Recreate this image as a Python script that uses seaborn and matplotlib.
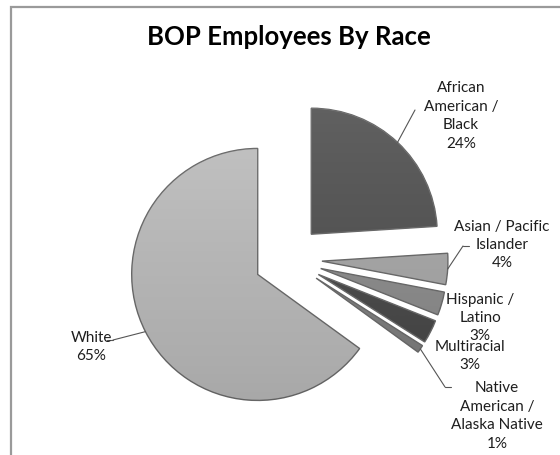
import numpy as np
import matplotlib
matplotlib.use("Agg")
import matplotlib.pyplot as plt
import matplotlib.patches as mpatches
import seaborn as sns

# Dados
races = ["African American / Black", "Asian / Pacific Islander", "Hispanic / Latino",
         "Multiracial", "Native American / Alaska Native", "White"]
shares = [24, 4, 3, 3, 1, 65]
label_texts = ["African\nAmerican /\nBlack\n24%", "Asian / Pacific\nIslander\n4%",
               "Hispanic /\nLatino\n3%", "Multiracial\n3%",
               "Native\nAmerican /\nAlaska Native\n1%", "White\n65%"]

sns.set_theme(style="white")
plt.rcParams['font.family'] = ['Lato', 'DejaVu Sans']

W, H = 560, 456
fig = plt.figure(figsize=(W / 100, H / 100), dpi=100)
ax = fig.add_axes([0, 0, 1, 1])

# moldura do gráfico (só topo e esquerda ficam visíveis)
ax.add_patch(mpatches.Rectangle((11, -20), 600, H - 8 + 20, fill=False,
                                edgecolor='#9a9a9a', linewidth=1.6))

center = (288, H - 260)
radius = 126
explode = [34] * len(shares)
base_colors = ['#4c4c4c', '#ababab', '#8c8c8c', '#404040', '#7c7c7c', '#c0c0c0']

wedges, _ = ax.pie(shares, explode=explode, colors=base_colors, startangle=90,
                   counterclock=False, center=center, radius=radius, frame=True,
                   wedgeprops=dict(edgecolor='#666666', linewidth=1.0))

# sombreado em gradiente em cada fatia (mais claro em cima)
grad = np.linspace(0, 1, 256).reshape(-1, 1)
for w in wedges:
    cx, cy = w.center
    img = ax.imshow(grad, cmap='Greys', alpha=0.18, vmin=-0.8, vmax=1.4,
                    extent=[cx - radius, cx + radius, cy - radius, cy + radius],
                    origin='upper', zorder=w.get_zorder() + 0.1, aspect='auto')
    img.set_clip_path(w)

ax.set_xlim(0, W)
ax.set_ylim(0, H)
ax.set_aspect('equal')
ax.axis('off')

# título
ax.text(289, H - 37, "BOP Employees By Race", ha='center', va='center',
        fontsize=18.5, fontweight='bold', color='black')

# posições dos rótulos (pixels), cotovelos das linhas de chamada e traço horizontal
text_pos = [(461, 116), (502, 245), (480, 318), (470, 356), (497, 416), (91, 347)]
elbows = [(415, 111), (463, 247), None, None, (445, 388), (113, 341)]
ticks = [0, 6, 0, 0, 6, -6]

for w, txt, (tx, ty), elb, dx in zip(wedges, label_texts, text_pos, elbows, ticks):
    ax.text(tx, H - ty, txt, ha='center', va='center', fontsize=11,
            color='#1e1e1e', linespacing=1.4)
    if elb is None:
        continue
    mid = np.deg2rad((w.theta1 + w.theta2) / 2)
    cx, cy = w.center
    px, py = cx + radius * np.cos(mid), cy + radius * np.sin(mid)
    ex, ey = elb[0], H - elb[1]
    ax.plot([px, ex], [py, ey], color='#555555', lw=0.8)
    if dx:
        ax.plot([ex, ex + dx], [ey, ey], color='#555555', lw=0.8)

fig.savefig('out.png', dpi=100)
